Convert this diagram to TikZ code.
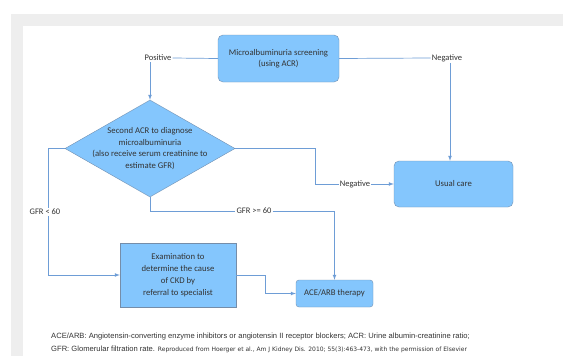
\documentclass[tikz,border=0pt]{standalone}
\usepackage{fontspec}
\setmainfont{Carlito}
\newfontfamily\notefont{Liberation Sans}
\newfontfamily\smallnotefont{DejaVu Sans}
\usepackage{tikz}
\usetikzlibrary{shapes.geometric, arrows, positioning}

\definecolor{boxblue}{HTML}{84C6FD}
\definecolor{boxline}{HTML}{7391B3}
\definecolor{flowline}{HTML}{6E9DD6}
\definecolor{txtgray}{HTML}{333333}
\definecolor{framegray}{HTML}{EEEEEE}

\begin{document}
\begin{tikzpicture}[x=1pt, y=-1pt, >=latex,
  roundbox/.style={rectangle, rounded corners=5pt, fill=boxblue, draw=boxline,
    text centered, align=center, font=\fontsize{8.7}{11.5}\selectfont, text=txtgray},
  squarebox/.style={rectangle, fill=boxblue, draw=boxline!80!gray,
    text centered, align=center, font=\fontsize{8.7}{12}\selectfont, text=txtgray},
  flowlabel/.style={fill=white, inner sep=1pt, font=\fontsize{8.5}{9}\selectfont, text=txtgray},
  flow/.style={draw=flowline, line width=0.7pt}]

  \useasboundingbox (0,0) rectangle (563,356);
  \fill[white] (0,0) rectangle (563,356);
  \fill[framegray] (11,14) rectangle (563,356);
  \fill[white] (23,26) rectangle (563,356);

  \node (screen) at (278.5,58.5) [roundbox,
    minimum width=121pt,
    minimum height=47pt] {Microalbuminuria screening\\(using ACR)};

  \node (second) at (150,148.5) [diamond,
    fill=boxblue,
    draw=boxline,
    inner sep=0pt,
    minimum width=170pt,
    minimum height=97pt] {};
  \node (secondtext) at (second.center) [align=center,
    text=txtgray,
    font=\fontsize{8.7}{11.7}\selectfont] {Second ACR to diagnose\\microalbuminuria\\(also receive serum creatinine to\\estimate GFR)};

  \node (usual) at (453.5,184) [roundbox,
    minimum width=119pt,
    minimum height=46pt] {Usual care};

  \node (exam) at (178,275) [squarebox,
    minimum width=116pt,
    minimum height=64pt] {Examination to\\determine the cause\\of CKD by\\referral to specialist};

  \node (acearb) at (334.5,293.5) [roundbox,
    rounded corners=3pt,
    minimum width=77pt,
    minimum height=27pt] {ACE/ARB therapy};

  % labels on the connectors
  \node (pos) at (158,58) [flowlabel] {Positive};
  \node (neg) at (447,58) [flowlabel] {Negative};
  \node (negtwo) at (355,184) [flowlabel] {Negative};
  \node (gfrhigh) at (254,211) [flowlabel] {GFR >= 60};
  \node (gfrlow) at (45,212) [flowlabel] {GFR < 60};

  \coordinate (negdrop) at (450,0);
  \coordinate (bendright) at (315,148.5);
  \coordinate (bendleft) at (48,148.5);
  \coordinate (bendexam) at (265,275);

  \draw[flow] (screen.west) -- (pos.east);
  \draw[flow] (screen.east) -- (neg.west);
  \draw[flow,->] (pos.south -| second.north) -- (second.north);
  \draw[flow,->] (neg.south -| negdrop) -- (negdrop |- usual.north);

  \draw[flow] (second.east) -- (bendright) |- (negtwo.west);
  \draw[flow,->] (negtwo.east) -- (usual.west);

  \draw[flow] (second.south) |- (gfrhigh.west);
  \draw[flow,->] (gfrhigh.east) -| (acearb.north);

  \draw[flow] (second.west) -- (bendleft) -- (bendleft |- gfrlow.north);
  \draw[flow,->] (bendleft |- gfrlow.south) |- (exam.west);

  \draw[flow,->] (exam.east) -- (bendexam) |- (acearb.west);

  % footnote
  \node (noteone) at (51,337) [anchor=west, inner sep=0pt, text=txtgray,
    font=\notefont\fontsize{7.6}{8}\selectfont] {ACE/ARB: Angiotensin-converting enzyme inhibitors or angiotensin II receptor blockers; ACR: Urine albumin-creatinine ratio;};
  \node (notetwo) at (51,349) [anchor=west, inner sep=0pt, text=txtgray,
    font=\notefont\fontsize{7.6}{8}\selectfont] {GFR: Glomerular filtration rate. {\smallnotefont\fontsize{6}{7}\selectfont Reproduced from Hoerger et al., Am J Kidney Dis. 2010; 55(3):463-473, with the permission of Elsevier}};
\end{tikzpicture}
\end{document}
